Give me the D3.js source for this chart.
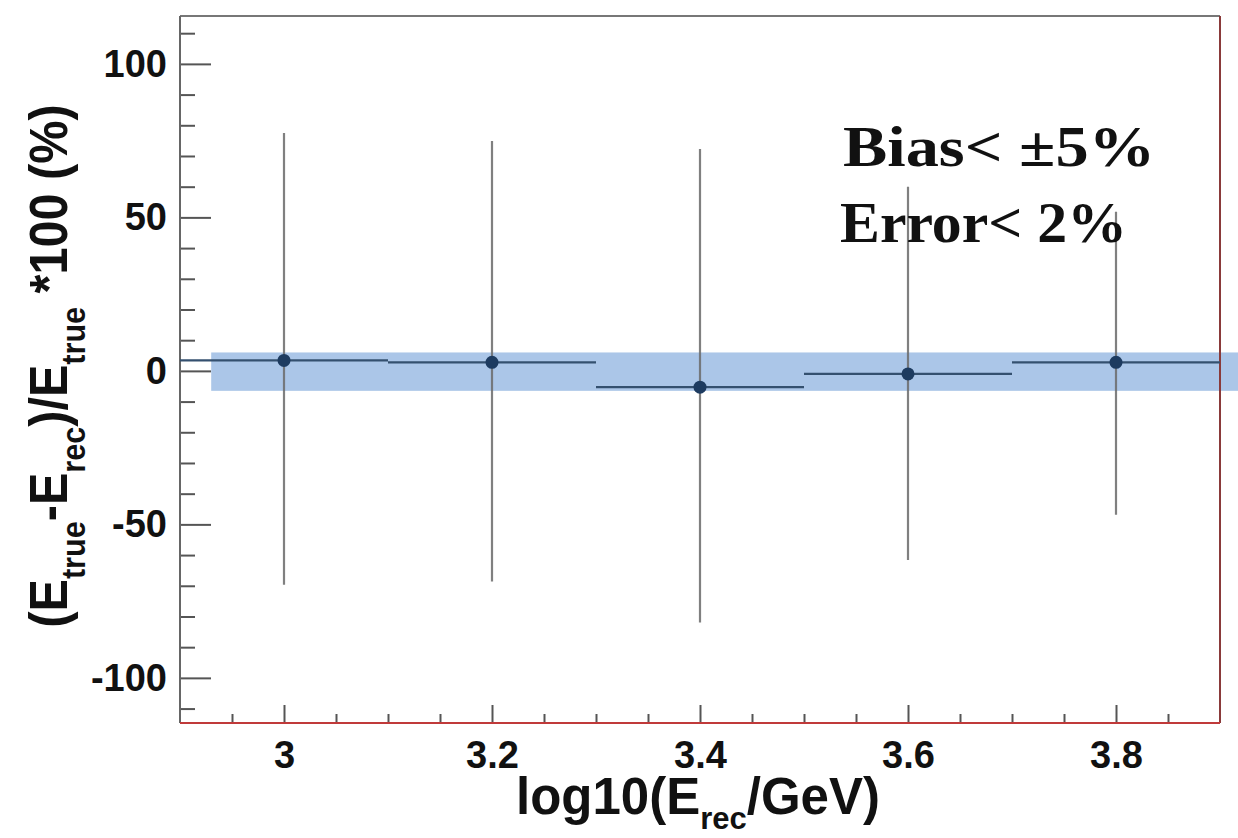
<!DOCTYPE html>
<html>
<head>
<meta charset="utf-8">
<script src="https://cdn.jsdelivr.net/npm/d3@7"></script>
<style>
  html, body { margin: 0; padding: 0; background: #fff; }
  svg { display: block; }
</style>
</head>
<body>
<svg id="chart" width="1238" height="838"></svg>
<script>
// ---- data ----
const binCenters = [3.0, 3.2, 3.4, 3.6, 3.8];
const binLow     = [2.9, 3.1, 3.3, 3.5, 3.7];
const binHigh    = [3.1, 3.3, 3.5, 3.7, 3.9];
const meanBias   = [3.4, 2.8, -5.3, -1.0, 2.8];
const errUpper   = [77.5, 74.9, 72.3, 60.0, 51.8];
const errLower   = [-69.7, -68.6, -82.0, -61.6, -46.9];
const bandY      = [-6.5, 6.0];
const bandX      = [2.93, 3.95];
const xMajorTicks = [3.0, 3.2, 3.4, 3.6, 3.8];
const xTickLabels = ["3", "3.2", "3.4", "3.6", "3.8"];
const yMajorTicks = [-100, -50, 0, 50, 100];
const yTickLabels = ["-100", "-50", "0", "50", "100"];
const annotation1 = "Bias< \u00B15%";
const annotation2 = "Error< 2%";

// ---- layout ----
const svg = d3.select("#chart");
const L = 180, R = 1220, T = 16, B = 723;
const x = d3.scaleLinear().domain([2.9, 3.9]).range([L, R]);
const y = d3.scaleLinear().domain([-114.7, 115.6]).range([B, T]);
const sans = "'Liberation Sans', Arial, Helvetica, sans-serif";
const serif = "'Liberation Serif', 'Times New Roman', serif";

// band
svg.append("rect")
  .attr("x", x(bandX[0])).attr("y", y(bandY[1]))
  .attr("width", x(bandX[1]) - x(bandX[0]))
  .attr("height", y(bandY[0]) - y(bandY[1]))
  .attr("fill", "#abc6e8");

// axes ticks
const minorY = d3.range(-110, 111, 10).filter(v => v % 50 !== 0);
const minorX = d3.range(2.95, 3.9, 0.05).map(v => +v.toFixed(2)).filter(v => !xMajorTicks.some(m => Math.abs(m - v) < 1e-6));

const yAxisMinor = svg.append("g").attr("transform", `translate(${L},0)`)
  .call(d3.axisLeft(y).tickValues(minorY).tickSize(-15).tickFormat(""));
const yAxis = svg.append("g").attr("transform", `translate(${L},0)`)
  .call(d3.axisLeft(y).tickValues(yMajorTicks).tickSize(-31).tickPadding(13)
    .tickFormat((d, i) => yTickLabels[i]));
const xAxisMinor = svg.append("g").attr("transform", `translate(0,${B})`)
  .call(d3.axisBottom(x).tickValues(minorX).tickSize(-9).tickFormat(""));
const xAxis = svg.append("g").attr("transform", `translate(0,${B})`)
  .call(d3.axisBottom(x).tickValues(xMajorTicks).tickSize(-18).tickPadding(18)
    .tickFormat((d, i) => xTickLabels[i]));

[yAxisMinor, yAxis, xAxisMinor, xAxis].forEach(g => {
  g.select(".domain").remove();
  g.selectAll(".tick line").attr("stroke", "#555").attr("stroke-width", 2);
  g.selectAll(".tick text").attr("fill", "#111")
    .style("font-family", sans).style("font-weight", "bold").style("font-size", "38px");
});

// frame
svg.append("line").attr("x1", L).attr("x2", R).attr("y1", T).attr("y2", T)
  .attr("stroke", "#777").attr("stroke-width", 2);
svg.append("line").attr("x1", L).attr("x2", L).attr("y1", T).attr("y2", B)
  .attr("stroke", "#666").attr("stroke-width", 2);
svg.append("line").attr("x1", R).attr("x2", R).attr("y1", T).attr("y2", B)
  .attr("stroke", "#8a3a3a").attr("stroke-width", 2);
svg.append("line").attr("x1", L).attr("x2", R).attr("y1", B).attr("y2", B)
  .attr("stroke", "#c03a3a").attr("stroke-width", 2);

// error bars
const pts = binCenters.map((c, i) => ({c, lo: binLow[i], hi: binHigh[i], m: meanBias[i], up: errUpper[i], dn: errLower[i]}));
svg.append("g").selectAll("line.v").data(pts).join("line")
  .attr("x1", d => x(d.c)).attr("x2", d => x(d.c))
  .attr("y1", d => y(d.up)).attr("y2", d => y(d.dn))
  .attr("stroke", "#6a6a6a").attr("stroke-opacity", 0.85).attr("stroke-width", 2.2);
svg.append("g").selectAll("line.h").data(pts).join("line")
  .attr("x1", d => x(d.lo)).attr("x2", d => x(d.hi))
  .attr("y1", d => y(d.m)).attr("y2", d => y(d.m))
  .attr("stroke", "#34506f").attr("stroke-width", 2.2);
svg.append("g").selectAll("circle").data(pts).join("circle")
  .attr("cx", d => x(d.c)).attr("cy", d => y(d.m)).attr("r", 6.5)
  .attr("fill", "#1d3b60");

// annotations
svg.append("text").attr("x", 843).attr("y", 166)
  .attr("textLength", 312).attr("lengthAdjust", "spacingAndGlyphs")
  .style("font-family", serif).style("font-weight", "bold").style("font-size", "57px")
  .attr("fill", "#111").text(annotation1);
svg.append("text").attr("x", 840).attr("y", 242)
  .attr("textLength", 287).attr("lengthAdjust", "spacingAndGlyphs")
  .style("font-family", serif).style("font-weight", "bold").style("font-size", "57px")
  .attr("fill", "#111").text(annotation2);

// x label
const xl = svg.append("text").attr("transform", "translate(698,814)")
  .attr("text-anchor", "middle")
  .style("font-family", sans).style("font-weight", "bold").style("font-size", "51px")
  .attr("fill", "#111");
xl.append("tspan").text("log10(E");
xl.append("tspan").attr("dy", 15).style("font-size", "31px").text("rec");
xl.append("tspan").attr("dy", -15).text("/GeV)");

// y label
const yl = svg.append("text")
  .attr("transform", "translate(67,366) rotate(-90) scale(0.9,1)")
  .attr("text-anchor", "middle")
  .style("font-family", sans).style("font-weight", "bold").style("font-size", "54px")
  .attr("fill", "#111");
yl.append("tspan").text("(E");
yl.append("tspan").attr("dy", 18).style("font-size", "34px").text("true");
yl.append("tspan").attr("dy", -18).text("-E");
yl.append("tspan").attr("dy", 18).style("font-size", "34px").text("rec");
yl.append("tspan").attr("dy", -18).text(")/E");
yl.append("tspan").attr("dy", 18).style("font-size", "34px").text("true");
yl.append("tspan").attr("dy", -18).text(" *100 (%)");
</script>
</body>
</html>
